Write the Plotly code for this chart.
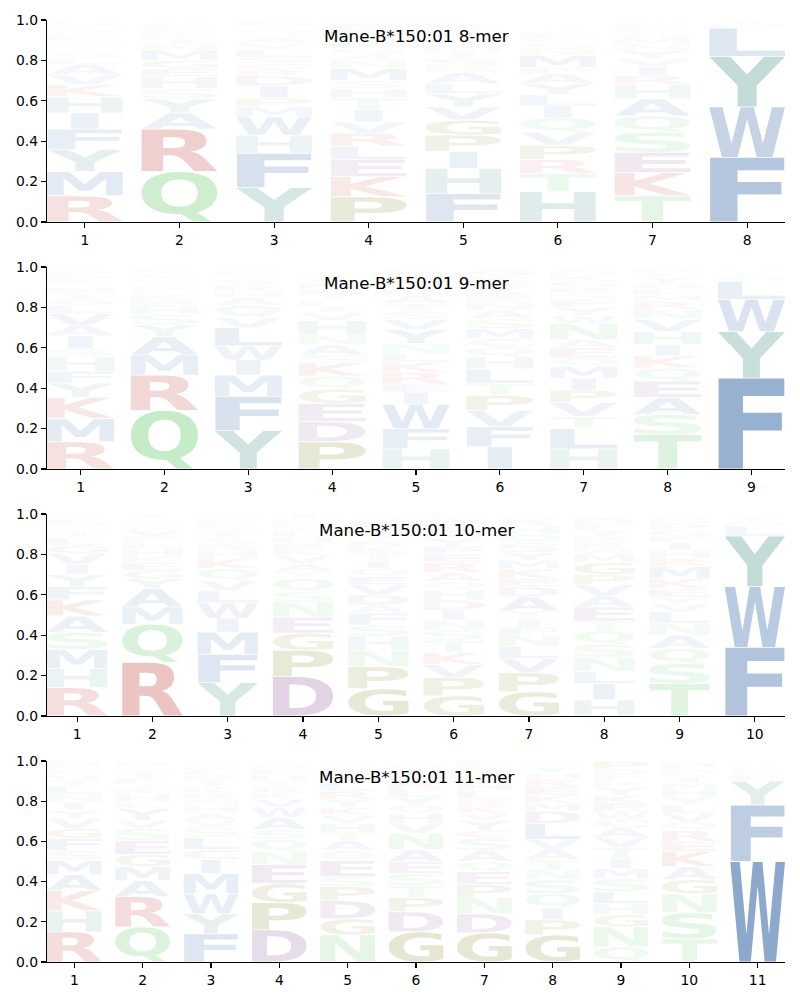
import glob
import os
import struct
import plotly.graph_objects as go

# ---------------- data ----------------
ALLELE = "Mane-B*150:01"
LENGTHS = [8, 9, 10, 11]
Y_TICKS = [0.0, 0.2, 0.4, 0.6, 0.8, 1.0]
Y_TICK_LABELS = ["0.0", "0.2", "0.4", "0.6", "0.8", "1.0"]

# per position: letter -> frequency, listed from bottom of the stack to top
freq_8mer = [
    {"R": 0.13, "M": 0.12, "Y": 0.11, "F": 0.10, "I": 0.08, "H": 0.08, "K": 0.06, "V": 0.05, "A": 0.05, "L": 0.03,
     "S": 0.03, "T": 0.02, "N": 0.02, "Q": 0.02, "E": 0.02, "W": 0.02, "G": 0.02, "P": 0.02, "D": 0.01, "C": 0.01},
    {"Q": 0.25, "R": 0.21, "A": 0.08, "Y": 0.07, "S": 0.05, "H": 0.06, "E": 0.04, "G": 0.04, "M": 0.05, "N": 0.03,
     "T": 0.03, "K": 0.02, "L": 0.02, "F": 0.02, "P": 0.01, "V": 0.01, "W": 0.01},
    {"Y": 0.17, "F": 0.17, "H": 0.09, "W": 0.09, "M": 0.05, "P": 0.045, "I": 0.06, "D": 0.05, "R": 0.03, "C": 0.03,
     "S": 0.03, "L": 0.04, "V": 0.03, "A": 0.03, "Q": 0.02, "N": 0.02, "T": 0.02, "E": 0.02, "G": 0.005},
    {"P": 0.125, "K": 0.10, "E": 0.085, "L": 0.065, "R": 0.065, "V": 0.055, "I": 0.06, "T": 0.06, "H": 0.045,
     "S": 0.04, "M": 0.06, "N": 0.04, "A": 0.03, "Q": 0.03, "F": 0.03, "Y": 0.03, "G": 0.03, "D": 0.03, "W": 0.01,
     "C": 0.01},
    {"F": 0.14, "H": 0.125, "I": 0.085, "P": 0.08, "G": 0.075, "V": 0.065, "Y": 0.065, "L": 0.05, "A": 0.055,
     "R": 0.03, "S": 0.04, "T": 0.04, "M": 0.03, "N": 0.03, "Q": 0.02, "E": 0.02, "D": 0.02, "W": 0.01, "C": 0.01,
     "K": 0.01},
    {"H": 0.15, "T": 0.09, "R": 0.07, "P": 0.07, "V": 0.065, "Q": 0.07, "I": 0.06, "L": 0.055, "Y": 0.055, "A": 0.05,
     "F": 0.03, "M": 0.06, "N": 0.03, "S": 0.03, "K": 0.02, "E": 0.02, "G": 0.02, "W": 0.005},
    {"T": 0.13, "K": 0.115, "E": 0.10, "S": 0.10, "Q": 0.08, "A": 0.085, "H": 0.07, "R": 0.045, "I": 0.045,
     "V": 0.04, "Y": 0.04, "N": 0.03, "M": 0.03, "G": 0.02, "P": 0.02, "F": 0.02, "D": 0.01, "W": 0.01, "C": 0.01},
    {"F": 0.32, "W": 0.25, "Y": 0.25, "L": 0.14, "M": 0.02, "I": 0.01, "V": 0.01},
]

freq_9mer = [
    {"R": 0.135, "M": 0.115, "K": 0.105, "Y": 0.07, "F": 0.06, "H": 0.07, "S": 0.04, "I": 0.065, "A": 0.05,
     "V": 0.06, "L": 0.04, "G": 0.03, "T": 0.03, "N": 0.03, "Q": 0.02, "E": 0.02, "D": 0.02, "P": 0.02, "W": 0.01,
     "C": 0.01},
    {"Q": 0.29, "R": 0.175, "M": 0.10, "A": 0.09, "Y": 0.06, "S": 0.05, "H": 0.04, "E": 0.03, "K": 0.03, "L": 0.02,
     "N": 0.02, "T": 0.02, "F": 0.02, "V": 0.02, "I": 0.01, "P": 0.015, "W": 0.005, "C": 0.005},
    {"Y": 0.19, "F": 0.17, "M": 0.105, "I": 0.075, "W": 0.07, "L": 0.09, "V": 0.05, "Q": 0.06, "A": 0.04, "H": 0.03,
     "R": 0.03, "S": 0.03, "T": 0.02, "K": 0.02, "N": 0.01, "E": 0.01},
    {"P": 0.135, "D": 0.10, "E": 0.09, "G": 0.07, "Q": 0.065, "K": 0.065, "S": 0.04, "A": 0.05, "N": 0.05,
     "H": 0.07, "V": 0.04, "I": 0.03, "L": 0.03, "T": 0.03, "R": 0.025, "M": 0.03, "Y": 0.02, "F": 0.02, "W": 0.01,
     "C": 0.01},
    {"H": 0.10, "F": 0.10, "W": 0.12, "I": 0.06, "E": 0.04, "R": 0.06, "K": 0.05, "L": 0.04, "N": 0.05, "Y": 0.07,
     "V": 0.05, "S": 0.04, "T": 0.04, "A": 0.04, "M": 0.03, "Q": 0.03, "G": 0.04, "P": 0.02, "D": 0.01, "C": 0.01},
    {"I": 0.11, "F": 0.10, "V": 0.08, "P": 0.075, "T": 0.06, "L": 0.07, "H": 0.06, "Q": 0.05, "C": 0.04, "M": 0.05,
     "S": 0.05, "A": 0.04, "N": 0.04, "E": 0.03, "D": 0.02, "Y": 0.03, "R": 0.02, "K": 0.03, "G": 0.03, "W": 0.01},
    {"H": 0.10, "L": 0.10, "T": 0.06, "V": 0.07, "P": 0.06, "I": 0.06, "M": 0.06, "Q": 0.04, "E": 0.05, "A": 0.04,
     "N": 0.08, "W": 0.04, "Y": 0.04, "F": 0.04, "S": 0.03, "R": 0.03, "G": 0.03, "K": 0.03, "D": 0.02, "C": 0.02},
    {"T": 0.17, "S": 0.10, "A": 0.085, "E": 0.08, "Q": 0.065, "K": 0.06, "I": 0.055, "H": 0.065, "V": 0.06,
     "N": 0.05, "R": 0.04, "M": 0.03, "L": 0.03, "G": 0.03, "Y": 0.03, "F": 0.02, "P": 0.02, "D": 0.01},
    {"F": 0.45, "Y": 0.23, "W": 0.16, "L": 0.09, "M": 0.02, "I": 0.02, "V": 0.01, "H": 0.01, "C": 0.01},
]

freq_10mer = [
    {"R": 0.14, "H": 0.095, "M": 0.095, "S": 0.085, "A": 0.08, "K": 0.08, "F": 0.065, "Y": 0.06, "I": 0.05,
     "V": 0.055, "G": 0.04, "L": 0.04, "T": 0.03, "Q": 0.02, "N": 0.02, "E": 0.02, "W": 0.01, "P": 0.01, "D": 0.005},
    {"R": 0.265, "Q": 0.19, "M": 0.085, "A": 0.09, "Y": 0.05, "G": 0.04, "E": 0.04, "K": 0.03, "H": 0.04, "L": 0.03,
     "F": 0.03, "V": 0.03, "N": 0.02, "T": 0.02, "S": 0.02, "I": 0.02},
    {"Y": 0.165, "F": 0.14, "M": 0.11, "I": 0.07, "W": 0.075, "L": 0.06, "V": 0.05, "Q": 0.06, "K": 0.05, "H": 0.04,
     "R": 0.03, "S": 0.03, "T": 0.03, "N": 0.02, "E": 0.02, "P": 0.02, "D": 0.01, "C": 0.02},
    {"D": 0.195, "P": 0.13, "G": 0.085, "E": 0.08, "N": 0.075, "S": 0.05, "Q": 0.065, "T": 0.035, "A": 0.04,
     "V": 0.04, "K": 0.03, "R": 0.03, "H": 0.03, "L": 0.03, "Y": 0.02, "F": 0.02, "M": 0.02, "I": 0.025},
    {"G": 0.135, "P": 0.11, "N": 0.08, "H": 0.07, "S": 0.055, "F": 0.06, "A": 0.04, "D": 0.05, "V": 0.05, "E": 0.04,
     "Q": 0.04, "I": 0.04, "T": 0.04, "K": 0.03, "R": 0.03, "Y": 0.03, "M": 0.03, "L": 0.04, "W": 0.02, "C": 0.01},
    {"G": 0.10, "P": 0.09, "V": 0.065, "K": 0.06, "T": 0.06, "S": 0.05, "N": 0.05, "I": 0.05, "D": 0.05, "H": 0.05,
     "Q": 0.04, "A": 0.045, "R": 0.05, "E": 0.04, "F": 0.04, "Y": 0.04, "M": 0.03, "L": 0.04, "W": 0.03, "C": 0.02},
    {"G": 0.12, "P": 0.095, "V": 0.07, "L": 0.06, "N": 0.055, "F": 0.04, "I": 0.04, "T": 0.04, "A": 0.07, "D": 0.05,
     "E": 0.04, "K": 0.05, "M": 0.04, "Y": 0.04, "S": 0.05, "Q": 0.04, "H": 0.04, "R": 0.03, "W": 0.02, "C": 0.01},
    {"H": 0.08, "I": 0.08, "L": 0.06, "N": 0.07, "S": 0.065, "Q": 0.065, "T": 0.05, "E": 0.07, "A": 0.055,
     "V": 0.055, "P": 0.05, "G": 0.06, "M": 0.04, "W": 0.03, "K": 0.03, "R": 0.03, "Y": 0.03, "F": 0.03, "D": 0.03,
     "C": 0.02},
    {"T": 0.16, "S": 0.10, "Q": 0.075, "A": 0.065, "N": 0.06, "L": 0.055, "V": 0.04, "Y": 0.035, "E": 0.04,
     "K": 0.05, "M": 0.06, "R": 0.04, "H": 0.04, "I": 0.04, "F": 0.03, "G": 0.03, "P": 0.03, "D": 0.02, "W": 0.02,
     "C": 0.01},
    {"F": 0.34, "W": 0.30, "Y": 0.25, "L": 0.05, "M": 0.02, "I": 0.02, "V": 0.01, "H": 0.01},
]

freq_11mer = [
    {"R": 0.15, "H": 0.105, "K": 0.10, "A": 0.08, "M": 0.07, "S": 0.05, "F": 0.06, "G": 0.05, "V": 0.05, "Y": 0.04,
     "I": 0.04, "N": 0.04, "L": 0.04, "T": 0.03, "Q": 0.03, "E": 0.02, "P": 0.02, "D": 0.02, "W": 0.005},
    {"Q": 0.175, "R": 0.15, "A": 0.08, "M": 0.07, "G": 0.06, "E": 0.07, "S": 0.06, "V": 0.04, "Y": 0.06, "L": 0.03,
     "H": 0.04, "K": 0.03, "I": 0.02, "F": 0.03, "T": 0.03, "N": 0.02, "P": 0.01, "D": 0.02},
    {"F": 0.14, "Y": 0.10, "W": 0.10, "M": 0.10, "I": 0.07, "C": 0.05, "L": 0.06, "S": 0.05, "V": 0.035, "A": 0.035,
     "H": 0.04, "N": 0.03, "R": 0.03, "K": 0.03, "T": 0.03, "Q": 0.03, "E": 0.02, "P": 0.02, "D": 0.01, "G": 0.02},
    {"D": 0.16, "P": 0.135, "G": 0.095, "E": 0.095, "N": 0.065, "Q": 0.06, "S": 0.05, "A": 0.06, "W": 0.05,
     "V": 0.04, "K": 0.03, "R": 0.03, "T": 0.03, "H": 0.03, "L": 0.03, "M": 0.02, "F": 0.01, "I": 0.01},
    {"N": 0.135, "G": 0.08, "D": 0.09, "P": 0.07, "S": 0.05, "E": 0.08, "Q": 0.05, "A": 0.05, "T": 0.04, "H": 0.045,
     "V": 0.04, "K": 0.04, "Y": 0.04, "R": 0.04, "L": 0.04, "I": 0.03, "M": 0.03, "F": 0.02, "W": 0.01, "C": 0.01},
    {"G": 0.15, "D": 0.10, "P": 0.07, "T": 0.06, "S": 0.06, "E": 0.06, "A": 0.06, "N": 0.08, "V": 0.05, "H": 0.05,
     "Q": 0.04, "Y": 0.04, "L": 0.04, "R": 0.04, "K": 0.03, "I": 0.03, "M": 0.02, "F": 0.01},
    {"G": 0.145, "D": 0.095, "N": 0.08, "P": 0.065, "E": 0.065, "Q": 0.05, "A": 0.055, "S": 0.06, "C": 0.04,
     "Y": 0.05, "V": 0.035, "K": 0.04, "R": 0.03, "L": 0.04, "H": 0.04, "T": 0.04, "I": 0.03, "M": 0.02, "F": 0.02},
    {"G": 0.135, "P": 0.075, "I": 0.06, "Q": 0.07, "S": 0.07, "N": 0.05, "T": 0.05, "A": 0.05, "V": 0.05, "L": 0.08,
     "D": 0.06, "M": 0.04, "K": 0.04, "E": 0.04, "R": 0.04, "H": 0.03, "Y": 0.03, "F": 0.02, "W": 0.01},
    {"Q": 0.075, "N": 0.10, "G": 0.06, "H": 0.055, "L": 0.06, "S": 0.065, "M": 0.05, "I": 0.05, "T": 0.055,
     "V": 0.05, "A": 0.05, "C": 0.04, "W": 0.04, "E": 0.04, "K": 0.04, "Y": 0.04, "R": 0.03, "F": 0.03, "D": 0.03,
     "P": 0.04},
    {"T": 0.115, "S": 0.13, "N": 0.095, "G": 0.07, "A": 0.065, "K": 0.075, "E": 0.05, "R": 0.055, "Q": 0.04,
     "V": 0.045, "L": 0.04, "Y": 0.04, "H": 0.04, "M": 0.03, "I": 0.03, "F": 0.02, "D": 0.02, "P": 0.03, "W": 0.01},
    {"W": 0.50, "F": 0.28, "Y": 0.12, "L": 0.03, "M": 0.02, "I": 0.01, "H": 0.01, "V": 0.01, "C": 0.01, "K": 0.01},
]

PANELS = [freq_8mer, freq_9mer, freq_10mer, freq_11mer]

# ---------------- style ----------------
BASE_COLORS = {
    "blue": (70, 116, 173), "green": (98, 200, 103), "red": (197, 76, 67),
    "purple": (136, 79, 144), "olive": (120, 120, 20), "teal": (65, 142, 132),
    "hgray": (90, 150, 150), "pink": (190, 90, 120),
}
LETTER_GROUP = {
    "A": "blue", "V": "blue", "I": "blue", "L": "blue", "M": "blue", "F": "blue", "W": "blue",
    "Q": "green", "S": "green", "T": "green", "N": "green",
    "R": "red", "K": "red", "D": "purple", "E": "purple", "P": "olive", "G": "olive",
    "Y": "teal", "H": "hgray", "C": "pink",
}
ALPHA_SCALE = 1.25
BOX_WIDTH = 0.8
FONT = "DejaVu Sans"


# ---------------- glyph outlines from an installed TrueType font ----------------
def find_font():
    names = ["DejaVuSans-Bold.ttf", "LiberationSans-Bold.ttf", "NotoSans-Bold.ttf",
             "Roboto-Bold.ttf", "OpenSans-Bold.ttf", "Lato-Bold.ttf"]
    dirs = ["/usr/share/fonts", "/usr/local/share/fonts", os.path.expanduser("~/.fonts"),
            os.path.expanduser("~/.local/share/fonts")]
    for n in names:
        for d in dirs:
            if os.path.isdir(d):
                hits = glob.glob(os.path.join(d, "**", n), recursive=True)
                if hits:
                    return hits[0]
    return None


def load_glyphs(path, chars):
    data = open(path, "rb").read()
    ntab = struct.unpack(">H", data[4:6])[0]
    tables = {}
    for i in range(ntab):
        tag, _, off, ln = struct.unpack(">4sIII", data[12 + 16 * i:28 + 16 * i])
        tables[tag.decode("latin1")] = off
    if "glyf" not in tables:
        return None
    head = tables["head"]
    loc_fmt = struct.unpack(">h", data[head + 50:head + 52])[0]
    maxp = tables["maxp"]
    nglyph = struct.unpack(">H", data[maxp + 4:maxp + 6])[0]
    lo = tables["loca"]
    if loc_fmt == 0:
        loca = [struct.unpack(">H", data[lo + 2 * i:lo + 2 * i + 2])[0] * 2 for i in range(nglyph + 1)]
    else:
        loca = [struct.unpack(">I", data[lo + 4 * i:lo + 4 * i + 4])[0] for i in range(nglyph + 1)]
    glyf = tables["glyf"]
    cm = tables["cmap"]
    nsub = struct.unpack(">H", data[cm + 2:cm + 4])[0]
    cmap = {}
    for i in range(nsub):
        pid, eid, off = struct.unpack(">HHI", data[cm + 4 + 8 * i:cm + 12 + 8 * i])
        sub = cm + off
        fmt = struct.unpack(">H", data[sub:sub + 2])[0]
        if fmt != 4:
            continue
        seg2 = struct.unpack(">H", data[sub + 6:sub + 8])[0]
        seg = seg2 // 2
        ends = struct.unpack(">%dH" % seg, data[sub + 14:sub + 14 + seg2])
        starts = struct.unpack(">%dH" % seg, data[sub + 16 + seg2:sub + 16 + 2 * seg2])
        deltas = struct.unpack(">%dh" % seg, data[sub + 16 + 2 * seg2:sub + 16 + 3 * seg2])
        ro_off = sub + 16 + 3 * seg2
        ros = struct.unpack(">%dH" % seg, data[ro_off:ro_off + seg2])
        for ch in chars:
            c = ord(ch)
            for s in range(seg):
                if starts[s] <= c <= ends[s]:
                    if ros[s] == 0:
                        g = (c + deltas[s]) & 0xFFFF
                    else:
                        addr = ro_off + 2 * s + ros[s] + 2 * (c - starts[s])
                        g = struct.unpack(">H", data[addr:addr + 2])[0]
                        if g:
                            g = (g + deltas[s]) & 0xFFFF
                    cmap[ch] = g
                    break
        if cmap:
            break

    def parse(g, dx=0, dy=0):
        off = glyf + loca[g]
        if loca[g] == loca[g + 1]:
            return []
        nc = struct.unpack(">h", data[off:off + 2])[0]
        p = off + 10
        if nc < 0:
            contours = []
            more = True
            while more:
                flags, gi = struct.unpack(">HH", data[p:p + 4])
                p += 4
                if flags & 1:
                    a1, a2 = struct.unpack(">hh", data[p:p + 4]); p += 4
                else:
                    a1, a2 = struct.unpack(">bb", data[p:p + 2]); p += 2
                if flags & 8:
                    p += 2
                elif flags & 0x40:
                    p += 4
                elif flags & 0x80:
                    p += 8
                contours += parse(gi, dx + (a1 if flags & 2 else 0), dy + (a2 if flags & 2 else 0))
                more = bool(flags & 0x20)
            return contours
        endpts = struct.unpack(">%dH" % nc, data[p:p + 2 * nc]); p += 2 * nc
        inslen = struct.unpack(">H", data[p:p + 2])[0]; p += 2 + inslen
        npts = endpts[-1] + 1
        flags = []
        while len(flags) < npts:
            f = data[p]; p += 1
            flags.append(f)
            if f & 8:
                r = data[p]; p += 1
                flags.extend([f] * r)
        xs, ys = [], []
        v = 0
        for f in flags:
            if f & 2:
                d = data[p]; p += 1
                v += d if f & 16 else -d
            elif not f & 16:
                v += struct.unpack(">h", data[p:p + 2])[0]; p += 2
            xs.append(v)
        v = 0
        for f in flags:
            if f & 4:
                d = data[p]; p += 1
                v += d if f & 32 else -d
            elif not f & 32:
                v += struct.unpack(">h", data[p:p + 2])[0]; p += 2
            ys.append(v)
        contours, s = [], 0
        for e in endpts:
            contours.append([(xs[k] + dx, ys[k] + dy, bool(flags[k] & 1)) for k in range(s, e + 1)])
            s = e + 1
        return contours

    out = {}
    for ch, g in cmap.items():
        cs = [c for c in parse(g) if len(c) > 2]
        if not cs:
            continue
        allx = [q[0] for c in cs for q in c]
        ally = [q[1] for c in cs for q in c]
        out[ch] = (cs, (min(allx), min(ally), max(allx), max(ally)))
    return out


def expand(c):
    res = []
    n = len(c)
    for i in range(n):
        a, b = c[i], c[(i + 1) % n]
        res.append(a)
        if not a[2] and not b[2]:
            res.append(((a[0] + b[0]) / 2, (a[1] + b[1]) / 2, True))
    k = next(i for i, q in enumerate(res) if q[2])
    return res[k:] + res[:k]


def glyph_path(glyph, ref_w, cx, y0, h):
    contours, (x0g, y0g, x1g, y1g) = glyph
    gw = max(x1g - x0g, 1)
    gh = max(y1g - y0g, 1)
    sx = BOX_WIDTH / max(gw, ref_w)
    mx = (x0g + x1g) / 2

    def tf(q):
        return "%.5f,%.5f" % (cx + (q[0] - mx) * sx, y0 + (q[1] - y0g) / gh * h)

    parts = []
    for c in contours:
        pts = expand(c)
        n = len(pts)
        parts.append("M" + tf(pts[0]))
        i = 1
        while i <= n:
            q = pts[i % n]
            if q[2]:
                parts.append("L" + tf(q))
                i += 1
            else:
                parts.append("Q" + tf(q) + " " + tf(pts[(i + 1) % n]))
                i += 2
        parts.append("Z")
    return " ".join(parts)


LETTERS = "ACDEFGHIKLMNPQRSTVWY"
font_path = find_font()
GLYPHS = load_glyphs(font_path, LETTERS + "E") if font_path else None
REF_W = (GLYPHS["E"][1][2] - GLYPHS["E"][1][0]) if GLYPHS and "E" in GLYPHS else 1

# ---------------- figure ----------------
W, H = 800, 1000
ML, MR, MT, MB = 47, 15, 20, 38
PANEL_H, GAP = 202, 45
plot_h = H - MT - MB

fig = go.Figure()
shapes = []
annotations = []
layout_axes = {}

for k, (L, cols) in enumerate(zip(LENGTHS, PANELS)):
    idx = "" if k == 0 else str(k + 1)
    top = 1 - (k * (PANEL_H + GAP)) / plot_h
    bot = 1 - (k * (PANEL_H + GAP) + PANEL_H) / plot_h
    xa = dict(domain=[0, 1], range=[0.6, L + 0.4], tickmode="array", tickvals=list(range(1, L + 1)),
              ticktext=[str(i) for i in range(1, L + 1)], showgrid=False, zeroline=False,
              showline=True, linecolor="black", linewidth=1.1, ticks="outside", ticklen=5, tickwidth=1.1,
              tickcolor="black", tickfont=dict(family=FONT, size=13.9, color="black"),
              anchor="y" + idx, fixedrange=True, automargin=False)
    ya = dict(domain=[max(bot, 0), min(top, 1)], range=[0, 1], tickmode="array", tickvals=Y_TICKS,
              ticktext=Y_TICK_LABELS, showgrid=False, zeroline=False, showline=True, linecolor="black",
              linewidth=1.1, ticks="outside", ticklen=5, tickwidth=1.1, tickcolor="black",
              tickfont=dict(family=FONT, size=13.9, color="black"), anchor="x" + idx, fixedrange=True,
              automargin=False)
    layout_axes["xaxis" + idx] = xa
    layout_axes["yaxis" + idx] = ya
    # invisible trace so the axes exist
    fig.add_trace(go.Scatter(x=[1], y=[0], mode="markers", marker=dict(opacity=0), hoverinfo="skip",
                             showlegend=False, xaxis="x" + idx, yaxis="y" + idx))

    for pos, col in enumerate(cols, start=1):
        ybase = 0.0
        for letter, val in col.items():
            if val <= 0:
                continue
            pad = min(0.002, val * 0.1)
            r, g, b = BASE_COLORS[LETTER_GROUP[letter]]
            alpha = min(1.0, ALPHA_SCALE * val)
            color = "rgba(%d,%d,%d,%.3f)" % (r, g, b, alpha)
            if GLYPHS and letter in GLYPHS:
                path = glyph_path(GLYPHS[letter], REF_W, pos, ybase + pad, val - 2 * pad)
                shapes.append(dict(type="path", path=path, xref="x" + idx, yref="y" + idx,
                                   fillcolor=color, line=dict(width=0), layer="below"))
            else:
                shapes.append(dict(type="rect", x0=pos - BOX_WIDTH / 2, x1=pos + BOX_WIDTH / 2,
                                   y0=ybase + pad, y1=ybase + val - pad, xref="x" + idx, yref="y" + idx,
                                   fillcolor=color, line=dict(width=0), layer="below"))
            ybase += val

    annotations.append(dict(text="%s %d-mer" % (ALLELE, L), xref="x%s domain" % idx, yref="y%s domain" % idx,
                            x=0.5, y=1, yanchor="middle", xanchor="center", yshift=-16, showarrow=False,
                            font=dict(family=FONT, size=16.7, color="black")))

fig.update_layout(width=W, height=H, margin=dict(l=ML, r=MR, t=MT, b=MB, pad=0, autoexpand=False),
                  paper_bgcolor="white", plot_bgcolor="white", showlegend=False, shapes=shapes,
                  annotations=annotations, hovermode=False, **layout_axes)

fig.write_html("out.html", config={"displayModeBar": False, "staticPlot": True},
               post_script="document.body.style.margin='0';document.body.style.padding='0';"
                           "document.body.style.overflow='hidden';")
